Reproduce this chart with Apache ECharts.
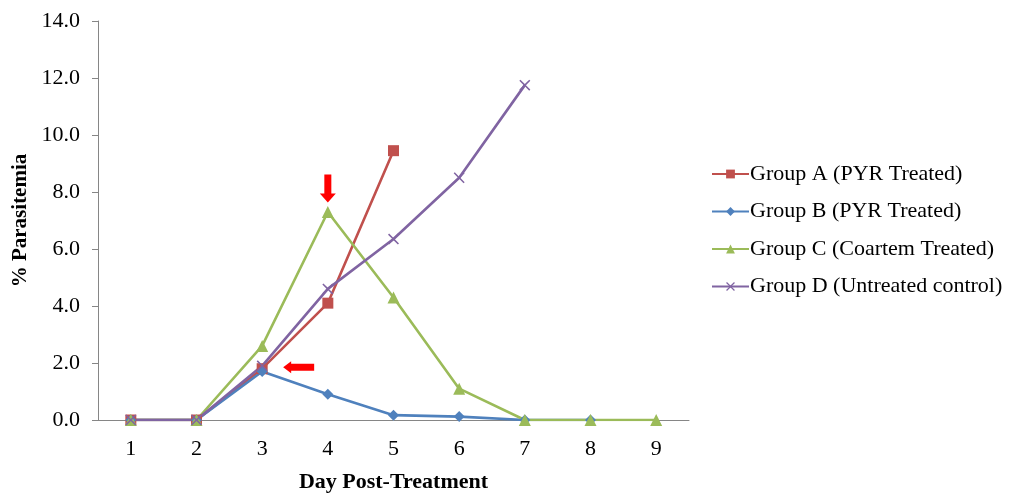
<!DOCTYPE html>
<html>
<head>
<meta charset="utf-8">
<script src="https://cdn.jsdelivr.net/npm/echarts@6/dist/echarts.min.js"></script>
<style>
  html, body { margin: 0; padding: 0; background: #fff; }
  #main { width: 1014px; height: 498px; }
</style>
</head>
<body>
<div id="main"></div>
<script>
var days = ['1', '2', '3', '4', '5', '6', '7', '8', '9']
var groupA = [0, 0, 1.8, 4.1, 9.45]
var groupB = [0, 0, 1.7, 0.9, 0.17, 0.12, 0, 0]
var groupC = [0, 0, 2.6, 7.3, 4.3, 1.1, 0, 0, 0]
var groupD = [0, 0, 1.9, 4.6, 6.35, 8.5, 11.75]
var names = ['Group A (PYR Treated)', 'Group B (PYR Treated)', 'Group C (Coartem Treated)', 'Group D (Untreated control)']

var serif = '"Liberation Serif", "Times New Roman", serif'
var axisGray = '#868686'
var crossPath = 'path://M0,1L1,0L5,4L9,0L10,1L6,5L10,9L9,10L5,6L1,10L0,9L4,5Z'

var chart = echarts.init(document.getElementById('main'))

function makeSeries(name, data, color, symbol, size) {
  return {
    name: name,
    type: 'line',
    data: data,
    symbol: symbol,
    symbolSize: size,
    showAllSymbol: true,
    lineStyle: { color: color, width: 2.6 },
    itemStyle: { color: color },
    emphasis: { disabled: true },
    z: 2
  }
}

var option = {
  animation: false,
  backgroundColor: '#fff',
  grid: { left: 98, right: 325, top: 21, bottom: 73 },
  legend: {
    orient: 'vertical',
    left: 706,
    top: 158,
    itemWidth: 37,
    itemHeight: 11,
    itemGap: 15.5,
    data: names,
    textStyle: { fontFamily: serif, fontSize: 22, color: '#000', padding: [0, 0, 0, -4] }
  },
  xAxis: {
    type: 'category',
    data: days,
    boundaryGap: true,
    name: 'Day Post-Treatment',
    nameLocation: 'middle',
    nameGap: 51,
    nameTextStyle: { fontFamily: serif, fontSize: 22, fontWeight: 'bold', color: '#000' },
    axisLine: { lineStyle: { color: axisGray, width: 1 } },
    axisTick: { show: false },
    axisLabel: { fontFamily: serif, fontSize: 22, color: '#000', margin: 18 },
    splitLine: { show: false }
  },
  yAxis: {
    type: 'value',
    min: 0,
    max: 14,
    interval: 2,
    name: '% Parasitemia',
    nameLocation: 'middle',
    nameGap: 66,
    nameTextStyle: { fontFamily: serif, fontSize: 21, fontWeight: 'bold', color: '#000' },
    axisLine: { show: true, lineStyle: { color: axisGray, width: 1 } },
    axisTick: { show: true, length: 6, lineStyle: { color: axisGray } },
    axisLabel: {
      fontFamily: serif, fontSize: 22, color: '#000', margin: 18,
      formatter: function (v) { return v.toFixed(1) }
    },
    splitLine: { show: false }
  },
  series: [
    makeSeries(names[0], groupA, '#C0504D', 'rect', 11),
    makeSeries(names[1], groupB, '#4F81BD', 'diamond', 11),
    makeSeries(names[2], groupC, '#9BBB59', 'triangle', 12),
    makeSeries(names[3], groupD, '#8064A2', crossPath, 11)
  ]
}
chart.setOption(option)

// red arrows pointing at the day 4 peak and the day 3 point
var down = chart.convertToPixel({ xAxisIndex: 0, yAxisIndex: 0 }, [3, 7.63])
var left = chart.convertToPixel({ xAxisIndex: 0, yAxisIndex: 0 }, [2, 1.85])
var lx = left[0] + 21
var ly = left[1]
chart.setOption({
  graphic: [
    {
      type: 'polygon',
      shape: {
        points: [
          [down[0], down[1]], [down[0] - 8, down[1] - 9], [down[0] - 3.5, down[1] - 9],
          [down[0] - 3.5, down[1] - 28], [down[0] + 3.5, down[1] - 28], [down[0] + 3.5, down[1] - 9],
          [down[0] + 8, down[1] - 9]
        ]
      },
      style: { fill: '#FF0000' },
      z: 10
    },
    {
      type: 'polygon',
      shape: {
        points: [
          [lx, ly], [lx + 8, ly - 6], [lx + 8, ly - 3.5], [lx + 31, ly - 3.5],
          [lx + 31, ly + 3.5], [lx + 8, ly + 3.5], [lx + 8, ly + 6]
        ]
      },
      style: { fill: '#FF0000' },
      z: 10
    }
  ]
})
</script>
</body>
</html>
